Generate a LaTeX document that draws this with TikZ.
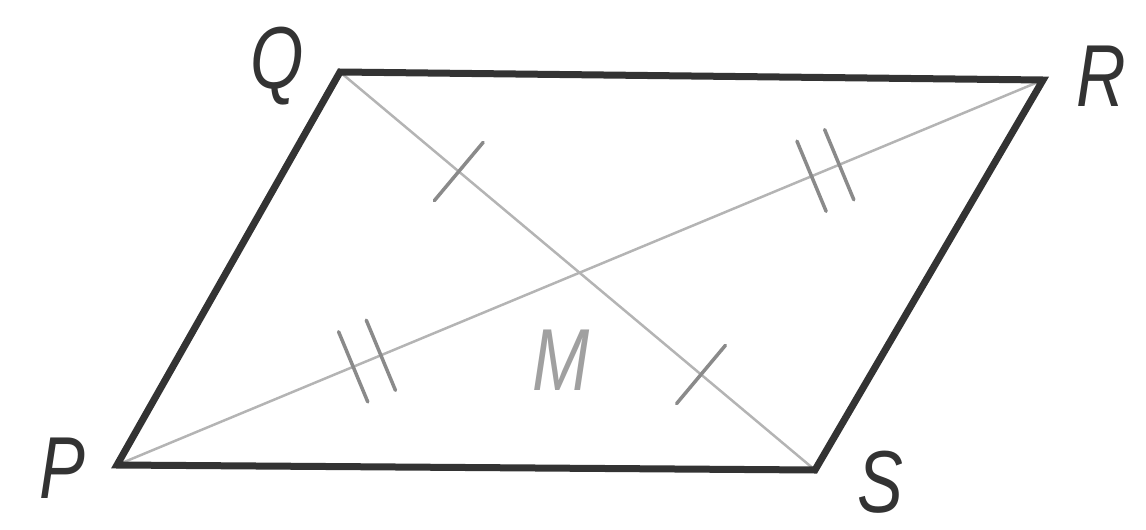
\documentclass[tikz,border=0pt]{standalone}
\usepackage{fontspec}
\setmainfont{Liberation Sans}
\usetikzlibrary{calc}
\definecolor{side}{HTML}{333333}
\definecolor{diag}{HTML}{B4B4B4}
\definecolor{tickc}{HTML}{8A8A8A}
\definecolor{mgray}{HTML}{A0A0A0}
\tikzset{
  sideline/.style={draw=side,line width=7pt,line join=miter,line cap=butt},
  diagline/.style={draw=diag,line width=2.5pt},
  tickline/.style={draw=tickc,line width=3.5pt,line cap=round},
  lbl/.style={font=\fontsize{88}{90}\selectfont\itshape,inner sep=0pt,text=side},
}
\begin{document}
\begin{tikzpicture}[x=1pt,y=-1pt]
\useasboundingbox (0,0) rectangle (1146,530);
\coordinate (P) at (117,465);
\coordinate (Q) at (340,72);
\coordinate (R) at (1043,80);
\coordinate (S) at (815,470);
% diagonals
\draw[diagline] (Q) -- (S);
\draw[diagline] (P) -- (R);
% sides
\draw[sideline] (P) -- (Q) -- (R) -- (S) -- cycle;
% single ticks on QS
\coordinate (t1) at ($(Q)!0.25!(S)$);
\coordinate (t2) at ($(Q)!0.76!(S)$);
\draw[tickline] ($(t1)!38pt!90:(S)$) -- ($(t1)!38pt!-90:(S)$);
\draw[tickline] ($(t2)!38pt!90:(S)$) -- ($(t2)!38pt!-90:(S)$);
% double ticks on PR
\coordinate (d1) at ($(P)!0.27!(R)$);
\coordinate (d2) at ($(P)!0.765!(R)$);
\coordinate (d1a) at ($(d1)!-15pt!(R)$);
\coordinate (d1b) at ($(d1)!15pt!(R)$);
\coordinate (d2a) at ($(d2)!-15pt!(R)$);
\coordinate (d2b) at ($(d2)!15pt!(R)$);
\foreach \c in {d1a,d1b,d2a,d2b}{
  \draw[tickline] ($(\c)!38pt!90:(R)$) -- ($(\c)!38pt!-90:(R)$);
}
% labels
\node[lbl] (lQ) at (277,66) {\scalebox{0.78}[1]{Q}};
\node[lbl] (lR) at (1101,76) {\scalebox{0.78}[1]{R}};
\node[lbl] (lP) at (62,468) {\scalebox{0.78}[1]{P}};
\node[lbl] (lS) at (880,482) {\scalebox{0.78}[1]{S}};
\node[lbl,text=mgray] (lM) at (561,360) {\scalebox{0.78}[1]{M}};
\end{tikzpicture}
\end{document}
